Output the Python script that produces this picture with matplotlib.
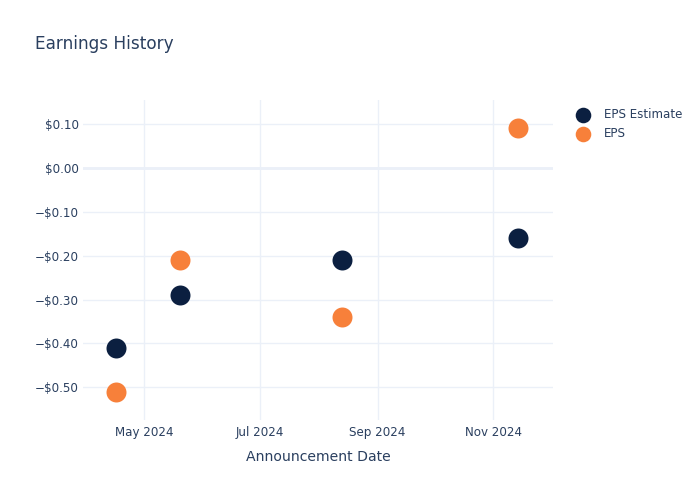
import matplotlib
matplotlib.use("Agg")
import matplotlib.pyplot as plt
import matplotlib.dates as mdates
import matplotlib.ticker as mticker
import numpy as np
import datetime as dt

dates = ["2024-04-16", "2024-05-20", "2024-08-13", "2024-11-14"]
eps_estimate = [-0.41, -0.29, -0.21, -0.16]
eps_actual = [-0.51, -0.21, -0.34, 0.09]
xtick_dates = ["2024-05-01", "2024-07-01", "2024-09-01", "2024-11-01"]
xtick_labels = ["May 2024", "Jul 2024", "Sep 2024", "Nov 2024"]
ytick_values = [0.10, 0.00, -0.10, -0.20, -0.30, -0.40, -0.50]

plt.rcParams['font.family'] = ['DejaVu Sans']
TXT = "#2a3f5f"
GRID = "#ebf0f8"
NAVY = "#0b1f40"
ORANGE = "#f7803a"

fig = plt.figure(figsize=(7, 5), dpi=100)
ax = fig.add_axes([83/700, 1-420/500, (553-83)/700, (420-100)/500])

x = [dt.datetime.strptime(d, "%Y-%m-%d") for d in dates]
ax.scatter(x, eps_estimate, s=207, color=NAVY, label="EPS Estimate", zorder=3, linewidths=0)
ax.scatter(x, eps_actual, s=207, color=ORANGE, label="EPS", zorder=3, linewidths=0)

ax.set_xlim(dt.datetime(2024, 3, 29, 14), dt.datetime(2024, 12, 2, 12))
ax.set_ylim(-0.5745, 0.1547)

ax.set_xticks([dt.datetime.strptime(d, "%Y-%m-%d") for d in xtick_dates])
ax.set_xticklabels(xtick_labels)
ax.set_yticks(ytick_values)
ax.yaxis.set_major_formatter(mticker.FuncFormatter(
    lambda v, p: ("\u2212" if v < -1e-9 else "") + "${:.2f}".format(abs(v))))

ax.grid(True, color=GRID, linewidth=1, zorder=0)
ax.axhline(0, color=GRID, linewidth=2, zorder=1)
for s in ax.spines.values():
    s.set_visible(False)
ax.tick_params(axis='both', length=0, labelsize=8.6, colors=TXT)
ax.tick_params(axis='x', pad=4)
ax.tick_params(axis='y', pad=3)
ax.set_xlabel("Announcement Date", fontsize=10.1, color=TXT, labelpad=8)

fig.text(35/700, 1-44/500, "Earnings History", fontsize=12.2, color=TXT, va='center', ha='left')

leg = fig.legend(loc='upper left', bbox_to_anchor=(566/700, 1-103/500), frameon=False,
                 fontsize=8.6, labelcolor=TXT, handletextpad=0.75, borderaxespad=0,
                 labelspacing=0.5, markerscale=0.78)

fig.savefig("out.png", dpi=100, facecolor="white")
